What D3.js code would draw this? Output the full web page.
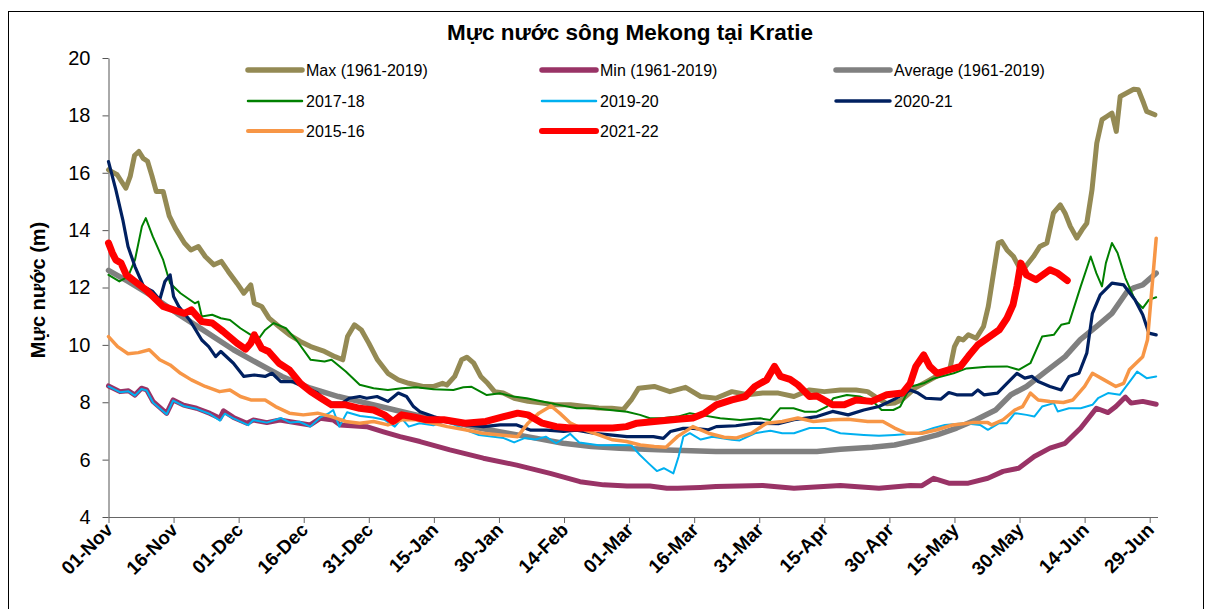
<!DOCTYPE html>
<html>
<head>
<meta charset="utf-8">
<script src="https://cdn.jsdelivr.net/npm/d3@7/dist/d3.min.js"></script>
<style>
  body { margin: 0; background: #fff; }
  text { font-family: "Liberation Sans", Arial, sans-serif; fill: #000; }
</style>
</head>
<body>
<script>
// day index from 01-Nov, water level (m)
var maxLevel = [[0,16.1],[2,15.93],[4,15.46],[5,15.87],[6,16.6],[7,16.74],[8,16.5],[9,16.4],[10,15.9],[11,15.35],[12.6,15.35],[14,14.5],[15.4,14.07],[17.5,13.55],[19,13.31],[20.7,13.43],[22.3,13.08],[24.3,12.79],[26,12.91],[27.6,12.56],[29.6,12.15],[31.2,11.8],[32.8,12.09],[33.6,11.45],[35.3,11.34],[37,10.93],[39.3,10.64],[41.7,10.35],[44.2,10.12],[46.6,9.94],[49.8,9.77],[52.2,9.59],[54,9.48],[55.1,10.29],[56.7,10.7],[58.3,10.52],[60,10.06],[62,9.48],[64.4,9.01],[66.8,8.78],[69.2,8.66],[72.5,8.55],[75,8.55],[77,8.66],[78,8.6],[79.8,8.9],[81.4,9.48],[82.6,9.57],[84.2,9.36],[85.8,8.9],[87.4,8.66],[89,8.37],[91,8.32],[93.5,8.14],[96.7,8.03],[100,7.97],[103,7.91],[106.5,7.91],[110,7.85],[113,7.8],[116,7.79],[118.7,7.75],[120.5,8.08],[122.2,8.49],[125.8,8.55],[129.4,8.37],[133,8.52],[136.5,8.2],[140,8.14],[143.7,8.37],[147.3,8.26],[150.8,8.32],[154.4,8.32],[158,8.2],[161.6,8.43],[165,8.37],[168.7,8.43],[172.3,8.43],[175,8.37],[176.7,8.2],[179.4,7.95],[181.2,7.97],[183,8.1],[186,8.5],[189,8.75],[192,9.0],[194,9.2],[195,9.94],[196,10.23],[197,10.17],[198.2,10.35],[200,10.23],[201.7,10.64],[202.8,11.34],[204,12.5],[205.1,13.55],[205.9,13.6],[207.1,13.31],[208.6,13.08],[209.4,12.85],[210.5,12.56],[213.2,13.08],[214.7,13.43],[216.3,13.55],[217.8,14.59],[219.4,14.88],[220.5,14.59],[221.7,14.13],[223.2,13.72],[224.4,14.01],[225.5,14.24],[226.7,15.4],[227.8,17.03],[229,17.85],[230.1,17.96],[231.3,18.08],[232.3,17.44],[233.2,18.66],[234.7,18.78],[236.3,18.91],[237.4,18.89],[238.6,18.43],[239.3,18.14],[241.2,18.02]];

var minLevel = [[0,8.57],[2.65,8.37],[4.6,8.4],[6.1,8.25],[7.6,8.49],[8.8,8.43],[10.3,8.02],[13.4,7.61],[14.9,8.08],[17.3,7.9],[20.3,7.79],[23.4,7.61],[25.7,7.44],[26.5,7.7],[28.8,7.47],[31.9,7.27],[33.4,7.38],[36.5,7.29],[39.5,7.38],[41.9,7.32],[46.5,7.21],[48.8,7.44],[51.8,7.38],[53.4,7.21],[59.5,7.15],[63.4,6.97],[67.2,6.8],[71.8,6.63],[78.7,6.34],[86.4,6.05],[94.1,5.81],[101.8,5.52],[108.7,5.23],[114.1,5.12],[119.5,5.08],[124.8,5.08],[128.7,5.0],[131.2,5.0],[136.4,5.03],[140,5.06],[150.8,5.1],[158,5.0],[168.7,5.1],[177.6,5.0],[184.8,5.1],[187.5,5.09],[190.2,5.35],[193.7,5.18],[198.2,5.18],[202.7,5.35],[206.2,5.59],[209.8,5.7],[213.4,6.11],[217,6.4],[220.5,6.57],[224.1,7.1],[227.7,7.79],[230.4,7.64],[232.2,7.85],[234.4,8.18],[235.7,7.97],[238.4,8.03],[241.5,7.93]];

var avgLevel = [[0,12.6],[4.5,12.21],[10.2,11.69],[15.8,11.1],[22.3,10.47],[28.8,9.83],[34.4,9.36],[40,8.9],[46.6,8.49],[53,8.2],[59.5,7.97],[66,7.73],[72.5,7.5],[79,7.33],[85.4,7.1],[92,6.92],[98.4,6.75],[104.8,6.57],[111.3,6.46],[117.8,6.4],[126.7,6.34],[140,6.28],[153.5,6.28],[163.3,6.28],[168.7,6.36],[176,6.43],[181.2,6.51],[186.6,6.69],[191,6.86],[195.5,7.1],[200,7.39],[204.5,7.73],[208,8.26],[211.6,8.55],[216,9.07],[220.5,9.59],[224,10.18],[227.7,10.64],[231.3,11.1],[234.8,11.86],[236.5,12.0],[238.4,12.09],[241.5,12.5]];

var y2017 = [[0,12.44],[2.5,12.21],[4.5,12.38],[6.1,12.96],[7.7,14.13],[8.6,14.42],[10.2,13.78],[12.6,12.96],[14.2,12.15],[16.6,11.8],[19.9,11.45],[20.7,11.51],[21.5,10.99],[23.9,11.05],[25.9,10.93],[28,10.87],[30.4,10.58],[32.8,10.35],[34.4,10.17],[36.1,10.52],[38.1,10.76],[40.9,10.58],[43.3,10.17],[46.6,9.48],[49.8,9.42],[51.4,9.48],[54.7,9.07],[57.9,8.61],[61.1,8.49],[64.4,8.43],[67.6,8.49],[70.9,8.52],[74.9,8.45],[79.5,8.43],[81.8,8.52],[83.7,8.54],[87.2,8.25],[90.3,8.31],[93.3,8.2],[96.4,8.14],[100.3,8.02],[104.1,7.9],[107.9,7.79],[111.8,7.79],[115.6,7.73],[119.5,7.67],[122.5,7.56],[124.8,7.44],[128,7.45],[131.2,7.5],[134,7.62],[136.4,7.56],[141,7.44],[145.6,7.38],[150.2,7.44],[152.5,7.38],[154.8,7.79],[157.9,7.79],[160.5,7.67],[163.2,7.67],[165.6,7.85],[167.1,8.14],[170.2,8.25],[173.2,8.2],[176.3,8.02],[178.2,7.73],[180.9,7.73],[182.5,7.85],[184.8,8.54],[187.9,8.66],[190.2,8.83],[194.8,9.01],[197.8,9.18],[202.5,9.24],[207.1,9.25],[209.8,9.13],[212.5,9.36],[215.2,10.29],[217.9,10.35],[219.6,10.7],[221.4,10.76],[224.1,12.04],[226.4,13.08],[227.7,12.5],[229,12.04],[229.9,12.85],[231.3,13.55],[232.6,13.2],[234.4,12.33],[236.6,11.57],[238.4,11.28],[239.8,11.57],[241.5,11.66]];

var y2019 = [[0,8.55],[2.65,8.35],[4.6,8.38],[6.1,8.23],[7.6,8.46],[8.8,8.41],[10.3,7.98],[13.4,7.58],[14.9,8.06],[17.3,7.87],[20.3,7.77],[23.4,7.59],[25.7,7.36],[26.8,7.6],[28.8,7.44],[32.2,7.2],[33.4,7.38],[36.5,7.29],[39.8,7.45],[41.9,7.29],[44,7.32],[46.5,7.15],[48.8,7.47],[50.6,7.6],[51.8,7.73],[53.2,7.15],[55,7.65],[58,7.52],[61,7.47],[63.6,7.39],[66,7.15],[67.6,7.44],[69.2,7.15],[71.7,7.27],[74.9,7.2],[77.3,7.33],[79.8,7.21],[82.4,7.03],[85.4,6.86],[88.7,6.8],[91.1,6.75],[93.5,6.6],[95.9,6.75],[98.4,6.7],[100.8,6.8],[103.2,6.57],[106.4,6.9],[108.5,6.6],[113,6.5],[117,6.51],[120.5,6.5],[122.5,6.16],[124.5,5.87],[126.4,5.6],[128,5.7],[130.2,5.52],[131.4,6.1],[132.5,6.8],[134,6.92],[136.5,6.7],[139.2,6.8],[143.7,6.69],[145.5,6.67],[149,6.92],[152.6,7.01],[155.3,6.92],[158,6.92],[161.6,7.1],[165.1,7.1],[168.7,6.92],[174.1,6.86],[177.6,6.83],[181.2,6.86],[186.6,6.92],[190.2,7.1],[192.8,7.21],[197.3,7.27],[200.9,7.21],[202.7,7.04],[205.3,7.27],[207.1,7.27],[208.9,7.62],[211.6,7.56],[213.4,7.5],[215.2,7.85],[217.9,7.97],[218.8,7.68],[221.4,7.79],[224.1,7.79],[226.8,7.91],[228.1,8.14],[230.4,8.32],[233.1,8.26],[235.7,8.78],[237.1,9.07],[239.3,8.84],[241.5,8.9]];

var y2020 = [[0,16.39],[1.7,15.4],[3.3,14.36],[4.5,13.43],[6.1,12.73],[8.1,12.03],[10.2,11.86],[11.8,11.57],[13,12.21],[14.2,12.44],[15,11.69],[16.2,11.34],[18.7,10.87],[21.5,10.17],[23.1,9.94],[24.7,9.59],[25.9,9.77],[28.8,9.36],[31.2,8.9],[33.6,8.95],[36.1,8.9],[37.7,9.01],[39.7,8.72],[42.5,8.72],[44.9,8.55],[48.2,8.32],[50.6,7.97],[53.9,7.97],[55.5,8.14],[57.9,8.2],[59.5,8.14],[61.9,8.2],[64.4,8.03],[66.8,8.32],[68.7,8.2],[70.3,7.85],[71.8,7.67],[74.9,7.5],[78.7,7.32],[82.6,7.21],[86.4,7.15],[90.3,7.21],[94.1,7.21],[97.2,7.03],[101,7.03],[104.9,6.98],[107.9,7.03],[111.8,6.92],[115.6,6.86],[119.5,6.8],[122.5,6.8],[125.6,6.8],[127.9,6.74],[129.5,6.98],[132.5,7.09],[134.8,7.09],[138.3,7.04],[140.1,7.15],[144.6,7.18],[149,7.27],[154.4,7.25],[158,7.39],[163.3,7.5],[166.9,7.68],[170.5,7.56],[174.1,7.73],[177.6,7.85],[181.2,8.11],[184.8,8.43],[186.6,8.32],[188.4,8.14],[191.9,8.11],[193.7,8.34],[195.5,8.26],[199.1,8.26],[200.4,8.43],[201.8,8.26],[204.9,8.32],[207.1,8.66],[209.4,9.01],[211.2,8.84],[212.9,8.9],[214.3,8.72],[217,8.55],[219.6,8.43],[221.4,8.9],[223.7,9.01],[225.5,9.71],[226.8,11.1],[228.6,11.74],[231.3,12.15],[234,12.09],[236.6,11.57],[238.4,11.05],[239.8,10.41],[241.5,10.35]];

var y2015 = [[0,10.29],[2.1,9.94],[4.5,9.69],[6.9,9.73],[9.4,9.83],[11.8,9.48],[14.2,9.3],[16.6,9.01],[19.1,8.78],[22.3,8.55],[25.6,8.37],[28,8.43],[30.4,8.2],[32.8,8.08],[36.1,8.08],[38.5,7.85],[41.7,7.62],[44.9,7.56],[48.2,7.62],[51.4,7.5],[54.7,7.33],[57.9,7.27],[61.1,7.33],[64.4,7.21],[67.6,7.39],[70.9,7.39],[74.9,7.27],[78.1,7.15],[82.2,7.04],[86.2,6.92],[90.3,6.86],[94.3,6.8],[96.7,7.27],[99.2,7.62],[102,7.87],[104,7.62],[106.5,7.27],[109.7,7.04],[113,6.86],[116.2,6.69],[119.4,6.63],[122.6,6.51],[125.8,6.46],[128.5,6.43],[131.2,6.81],[134.7,7.15],[138.3,6.92],[141.9,6.78],[144.6,6.75],[148.2,6.92],[151.7,7.27],[155.3,7.33],[158.9,7.45],[162.5,7.33],[166.9,7.39],[170.5,7.41],[175,7.33],[178.5,7.33],[181.2,7.1],[183.9,6.92],[187.5,6.92],[191,7.04],[194.6,7.21],[199.1,7.29],[202.7,7.29],[203.6,7.21],[206.2,7.39],[208.9,7.73],[210.7,7.85],[212.5,8.32],[214.3,8.08],[217,8.03],[220.1,7.99],[222.3,8.08],[225,8.55],[226.8,9.01],[229.5,8.78],[232.2,8.55],[234,8.66],[235.3,9.13],[238.4,9.59],[239.5,10.18],[241.5,13.72]];

var y2021 = [[0,13.55],[0.9,13.2],[1.7,12.96],[2.9,12.85],[4.1,12.44],[6.1,12.21],[8.6,11.92],[11,11.57],[12.6,11.34],[15,11.22],[17.5,11.1],[19.1,11.22],[21.5,10.81],[23.9,10.76],[26.4,10.47],[29.6,10.06],[31.6,9.85],[32.8,10.06],[33.6,10.35],[35.3,9.88],[36.9,9.77],[39.3,9.36],[41.7,9.13],[44.2,8.66],[46.6,8.37],[49,8.14],[51.4,7.91],[54.7,7.91],[57.9,7.79],[61.1,7.73],[63.6,7.56],[65.6,7.33],[67.6,7.56],[70,7.5],[73.3,7.39],[77.3,7.39],[82.2,7.27],[87,7.33],[91.1,7.5],[94.3,7.62],[96.7,7.56],[100,7.27],[103.2,7.15],[106.5,7.1],[111.3,7.1],[116.2,7.1],[119.4,7.15],[121.8,7.27],[125.8,7.33],[131.2,7.41],[134.7,7.45],[137.4,7.62],[140.1,7.91],[143.7,8.08],[146.8,8.2],[149,8.55],[151.7,8.78],[153.5,9.25],[154.9,8.9],[157.1,8.8],[158.9,8.61],[161.6,8.2],[163.3,8.22],[166.9,7.91],[169.6,7.91],[172.3,8.08],[175.9,8.03],[179.4,8.26],[183,8.32],[184.8,8.66],[186.1,9.25],[187.9,9.65],[189.3,9.25],[191,9.01],[193.7,9.13],[196.4,9.25],[198.2,9.6],[200.4,10.0],[202.7,10.24],[205.3,10.52],[207.1,10.93],[208.5,11.4],[209.4,12.04],[210.3,12.85],[211.6,12.44],[213.8,12.27],[217,12.62],[218.8,12.5],[221,12.24]];

var tickLabels = ["01-Nov","16-Nov","01-Dec","16-Dec","31-Dec","15-Jan","30-Jan","14-Feb","01-Mar","16-Mar","31-Mar","15-Apr","30-Apr","15-May","30-May","14-Jun","29-Jun"];
var yTicks = [4, 6, 8, 10, 12, 14, 16, 18, 20];

// series in drawing order (same as legend order)
var series = [
  { name: "Max (1961-2019)", data: maxLevel, color: "#948A54", width: 5, legendWidth: 5.5 },
  { name: "Min (1961-2019)", data: minLevel, color: "#993366", width: 5, legendWidth: 5.5 },
  { name: "Average (1961-2019)", data: avgLevel, color: "#808080", width: 5.5, legendWidth: 5.5 },
  { name: "2017-18", data: y2017, color: "#008000", width: 2, legendWidth: 2.5 },
  { name: "2019-20", data: y2019, color: "#00B0F0", width: 2, legendWidth: 2.5 },
  { name: "2020-21", data: y2020, color: "#002060", width: 3.2, legendWidth: 3.5 },
  { name: "2015-16", data: y2015, color: "#F79646", width: 3.5, legendWidth: 4 },
  { name: "2021-22", data: y2021, color: "#FF0000", width: 7, legendWidth: 6 }
];

var svgWidth = 1207;
var svgHeight = 609;

var margin = { top: 58, right: 50, bottom: 92, left: 108.5 };
var width = 1157.5 - margin.left;
var height = 517 - margin.top;

var svg = d3.select("body")
  .append("svg")
  .attr("width", svgWidth)
  .attr("height", svgHeight);

// chart border
svg.append("rect")
  .attr("x", 8.5)
  .attr("y", 11.5)
  .attr("width", 1195)
  .attr("height", 620)
  .attr("fill", "none")
  .attr("stroke", "#000")
  .attr("stroke-width", 1);

var chartGroup = svg.append("g")
  .attr("transform", `translate(${margin.left}, ${margin.top})`);

// scales
var xScale = d3.scaleLinear().domain([0, 241.8]).range([0, width]);
var yScale = d3.scaleLinear().domain([4, 20]).range([height, 0]);

// axes
var bottomAxis = d3.axisBottom(xScale)
  .tickValues(tickLabels.map((d, i) => i * 15))
  .tickFormat((d, i) => tickLabels[i])
  .tickSizeInner(6)
  .tickSizeOuter(0);

var leftAxis = d3.axisLeft(yScale)
  .tickValues(yTicks)
  .tickSizeInner(6)
  .tickSizeOuter(0)
  .tickPadding(12);

var xAxisGroup = chartGroup.append("g")
  .attr("transform", `translate(0, ${height})`)
  .call(bottomAxis);

xAxisGroup.selectAll("path, line").attr("stroke", "#666");
xAxisGroup.selectAll("text")
  .attr("x", 0)
  .attr("y", 0)
  .attr("dy", 0)
  .attr("text-anchor", "end")
  .attr("transform", "translate(5, 14) rotate(-45)")
  .style("font-size", "19px")
  .style("font-weight", "bold");

var yAxisGroup = chartGroup.append("g").call(leftAxis);
yAxisGroup.selectAll("path, line").attr("stroke", "#555");
yAxisGroup.selectAll("text").style("font-size", "20px");

// lines
var line = d3.line()
  .x(d => xScale(d[0]))
  .y(d => yScale(d[1]));

chartGroup.selectAll(".series")
  .data(series)
  .enter()
  .append("path")
  .attr("class", "series")
  .attr("d", d => line(d.data))
  .attr("fill", "none")
  .attr("stroke", d => d.color)
  .attr("stroke-width", d => d.width)
  .attr("stroke-linejoin", "round")
  .attr("stroke-linecap", "round");

// legend, 3 columns
var legendCols = [248, 542, 836];
var legendRows = [70, 101, 131];

var legendItems = svg.selectAll(".legend")
  .data(series)
  .enter()
  .append("g")
  .attr("class", "legend")
  .attr("transform", (d, i) => `translate(${legendCols[i % 3]}, ${legendRows[Math.floor(i / 3)]})`);

legendItems.append("line")
  .attr("x1", 0)
  .attr("x2", 54)
  .attr("stroke", d => d.color)
  .attr("stroke-width", d => d.legendWidth)
  .attr("stroke-linecap", "round");

legendItems.append("text")
  .attr("x", 58)
  .attr("dy", "0.36em")
  .style("font-size", "16px")
  .text(d => d.name);

// title
svg.append("text")
  .attr("x", 630)
  .attr("y", 40)
  .attr("text-anchor", "middle")
  .style("font-size", "22.5px")
  .style("font-weight", "bold")
  .text("Mực nước sông Mekong tại Kratie");

// y axis label
svg.append("text")
  .attr("transform", "translate(38, 290) rotate(-90)")
  .attr("text-anchor", "middle")
  .attr("dy", "0.35em")
  .style("font-size", "20px")
  .style("font-weight", "bold")
  .text("Mực nước (m)");
</script>
</body>
</html>
